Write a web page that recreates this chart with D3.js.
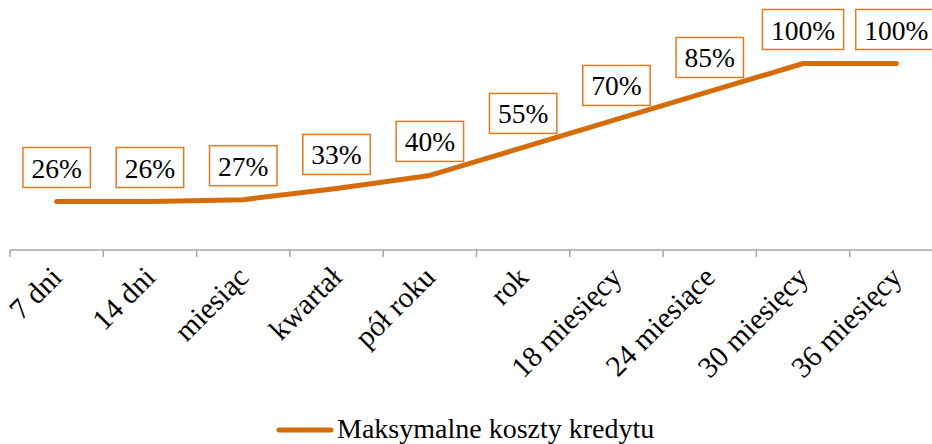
<!DOCTYPE html>
<html><head><meta charset="utf-8">
<script src="https://cdn.jsdelivr.net/npm/d3@7"></script>
<style>html,body{margin:0;padding:0;background:#fff;overflow:hidden}</style>
</head><body>
<svg id="c" width="932" height="444"></svg>
<script>
const categories = ["7 dni","14 dni","miesiąc","kwartał","pół roku","rok","18 miesięcy","24 miesiące","30 miesięcy","36 miesięcy"];
const values = [26,26,27,33,40,55,70,85,100,100];
const seriesName = "Maksymalne koszty kredytu";

const FONT = "'Liberation Serif', 'Times New Roman', serif";
const LINE = "#D46C0A";
const BOX = "#E07B22";
const svg = d3.select("#c");

const x = d3.scaleBand().domain(categories).range([10, 943]).paddingInner(0).paddingOuter(0);
const y = d3.scaleLinear().domain([0, 100]).range([250, 63.5]);
const cx = d => x(d) + x.bandwidth() / 2;

// axis
const axisG = svg.append("g").attr("transform", "translate(0,250)");
axisG.append("line").attr("x1", 10).attr("x2", 932).attr("y1", 0).attr("y2", 0)
  .attr("stroke", "#A6A6A6").attr("stroke-width", 1.5);
const tickPos = categories.map(c => x(c)).concat([x(categories[categories.length-1]) + x.bandwidth()]);
axisG.selectAll("line.tick").data(tickPos).enter().append("line").attr("class","tick")
  .attr("x1", d => d).attr("x2", d => d).attr("y1", 0).attr("y2", 7)
  .attr("stroke", "#A6A6A6").attr("stroke-width", 1.5);

svg.append("g").selectAll("text").data(categories).enter().append("text")
  .attr("transform", d => `translate(${cx(d) + 7},${279}) rotate(-45)`)
  .attr("text-anchor", "end")
  .attr("font-family", FONT).attr("font-size", 29.5).attr("fill", "#000")
  .text(d => d);

// line
const data = categories.map((c, i) => ({c, v: values[i]}));
svg.append("path").datum(data)
  .attr("d", d3.line().x(d => cx(d.c)).y(d => y(d.v)))
  .attr("fill", "none").attr("stroke", LINE).attr("stroke-width", 5)
  .attr("stroke-linecap", "round").attr("stroke-linejoin", "round");

// labels
const lab = svg.append("g").selectAll("g").data(data).enter().append("g")
  .attr("transform", d => `translate(${cx(d.c)},${y(d.v) - 34})`);
lab.append("rect").attr("fill", "#fff").attr("stroke", BOX).attr("stroke-width", 1.5);
lab.append("text").attr("text-anchor", "middle").attr("y", 10)
  .attr("font-family", FONT).attr("font-size", 27.5).attr("fill", "#000")
  .text(d => d.v + "%");
lab.each(function() {
  const g = d3.select(this);
  const w = g.select("text").node().getComputedTextLength() + 17;
  g.select("rect").attr("x", -w/2).attr("y", -20).attr("width", w).attr("height", 40);
});

// legend
const lg = svg.append("g");
lg.append("line").attr("x1", 279).attr("x2", 331).attr("y1", 430).attr("y2", 430)
  .attr("stroke", LINE).attr("stroke-width", 5).attr("stroke-linecap", "round");
lg.append("text").attr("x", 337).attr("y", 438)
  .attr("font-family", FONT).attr("font-size", 28).attr("fill", "#000")
  .text(seriesName);
</script>
</body></html>
